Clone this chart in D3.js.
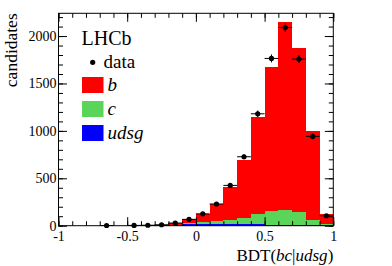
<!DOCTYPE html>
<html>
<head>
<meta charset="utf-8">
<script src="https://cdn.jsdelivr.net/npm/d3@7"></script>
<style>
  html, body { margin: 0; padding: 0; background: #fff; }
  svg { display: block; }
</style>
</head>
<body>
<svg id="chart" width="392" height="266"></svg>
<script>
// ---- data (bins of width 0.1 from -1 to 1) ----
const binLow = [-1.0,-0.9,-0.8,-0.7,-0.6,-0.5,-0.4,-0.3,-0.2,-0.1,0.0,0.1,0.2,0.3,0.4,0.5,0.6,0.7,0.8,0.9];
const bValues    = [0,0,0,0,1,1,1,4,16,44,94,186,342,611,1022,1523,1981,1732,938,105];
const cValues    = [0,0,0,0,0,0,1,2,4,8,14,24,42,63,104,140,155,136,55,14];
const udsgValues = [0.5,0.5,1,1,1,2,3,4,8,16,20,22,21,18,16,12,10,8,5,4];
const dataValues = [null,null,null,2,null,3,5,10,28,67,125,229,425,727,1180,1764,2090,1757,942,105];
const xMajorTicks = [-1,-0.5,0,0.5,1];
const xTickLabels = ["-1","-0.5","0","0.5","1"];
const yMajorTicks = [0,500,1000,1500,2000];
const yTickLabels = ["0","500","1000","1500","2000"];
const seriesKeys = ["udsg","c","b"];
const seriesColors = {b:"#ff0000", c:"#5ad55a", udsg:"#0000ff"};
const legendEntries = [{key:"b",label:"b"},{key:"c",label:"c"},{key:"udsg",label:"udsg"}];

const FONT = "'Liberation Serif', 'Times New Roman', Times, serif";
const binWidth = 0.1;
const svg = d3.select("#chart").attr("font-family", FONT);
const L = 58.5, R = 333.3, T = 13.3, B = 225.7;
const x = d3.scaleLinear().domain([-1,1]).range([L,R]);
const y = d3.scaleLinear().domain([0,2240]).range([B,T]);

// ---- stacked histogram ----
const rows = binLow.map((lo,i)=>({lo, b:bValues[i], c:cValues[i], udsg:udsgValues[i]}));
const stack = d3.stack().keys(seriesKeys)(rows);
stack.forEach(layer=>{
  svg.append("g").selectAll("rect").data(layer).join("rect")
    .attr("x", d=>x(d.data.lo))
    .attr("width", d=>x(d.data.lo+binWidth)-x(d.data.lo))
    .attr("y", d=>y(d[1]))
    .attr("height", d=>Math.max(0,y(d[0])-y(d[1])))
    .attr("fill", seriesColors[layer.key])
    .attr("shape-rendering","crispEdges");
});

// ---- axes (ticks inward on all sides) ----
const xMinor = d3.range(-10,11).map(v=>v/10);
const yMinor = d3.range(0,2300,100);
function styleAxis(g){
  g.attr("font-family", FONT).attr("font-size", null);
  g.select(".domain").remove();
  g.selectAll("line").attr("stroke","#000").attr("stroke-width",1);
  g.selectAll("text").attr("font-family", FONT).style("font-size","14px").attr("fill","#000");
}

const fmtX = d=>xTickLabels[xMajorTicks.indexOf(d)];
const fmtY = d=>yTickLabels[yMajorTicks.indexOf(d)];

svg.append("g").attr("transform",`translate(0,${B})`)
  .call(d3.axisBottom(x).tickValues(xMinor).tickSize(-4.5).tickFormat(""))
  .call(styleAxis);
svg.append("g").attr("transform",`translate(0,${B})`)
  .call(d3.axisBottom(x).tickValues(xMajorTicks).tickSize(-8.5).tickPadding(5.5).tickFormat(fmtX))
  .call(styleAxis);
svg.append("g").attr("transform",`translate(0,${T})`)
  .call(d3.axisTop(x).tickValues(xMinor).tickSize(-4.5).tickFormat(""))
  .call(styleAxis);
svg.append("g").attr("transform",`translate(0,${T})`)
  .call(d3.axisTop(x).tickValues(xMajorTicks).tickSize(-8.5).tickFormat(""))
  .call(styleAxis);

svg.append("g").attr("transform",`translate(${L},0)`)
  .call(d3.axisLeft(y).tickValues(yMinor).tickSize(-4.5).tickFormat(""))
  .call(styleAxis);
svg.append("g").attr("transform",`translate(${L},0)`)
  .call(d3.axisLeft(y).tickValues(yMajorTicks).tickSize(-8.5).tickPadding(2).tickFormat(fmtY))
  .call(styleAxis);
svg.append("g").attr("transform",`translate(${R},0)`)
  .call(d3.axisRight(y).tickValues(yMinor).tickSize(-4.5).tickFormat(""))
  .call(styleAxis);
svg.append("g").attr("transform",`translate(${R},0)`)
  .call(d3.axisRight(y).tickValues(yMajorTicks).tickSize(-8.5).tickFormat(""))
  .call(styleAxis);

// frame
svg.append("rect").attr("x",L).attr("y",T).attr("width",R-L).attr("height",B-T)
  .attr("fill","none").attr("stroke","#000").attr("stroke-width",1);

// ---- data points with error bars ----
const pts = binLow.map((lo,i)=>({xc:lo+binWidth/2, lo, v:dataValues[i]})).filter(d=>d.v!==null);
const gp = svg.append("g");
gp.selectAll("line.h").data(pts).join("line")
  .attr("x1",d=>x(d.lo)).attr("x2",d=>x(d.lo+binWidth))
  .attr("y1",d=>y(d.v)).attr("y2",d=>y(d.v))
  .attr("stroke","#000").attr("stroke-width",1);
gp.selectAll("line.v").data(pts).join("line")
  .attr("x1",d=>x(d.xc)).attr("x2",d=>x(d.xc))
  .attr("y1",d=>y(Math.max(0,d.v-Math.sqrt(d.v)))).attr("y2",d=>y(d.v+Math.sqrt(d.v)))
  .attr("stroke","#000").attr("stroke-width",1);
gp.selectAll("circle").data(pts).join("circle")
  .attr("cx",d=>x(d.xc)).attr("cy",d=>y(d.v)).attr("r",2.6).attr("fill","#000");

// ---- axis titles ----
const xt = svg.append("text").attr("x",R).attr("y",261).attr("text-anchor","end")
  .attr("font-family",FONT).style("font-size","17px");
xt.append("tspan").text("BDT(");
xt.append("tspan").attr("font-style","italic").text("bc");
xt.append("tspan").text("|");
xt.append("tspan").attr("font-style","italic").text("udsg");
xt.append("tspan").text(")");

svg.append("text").attr("transform",`translate(16.5,${T}) rotate(-90)`)
  .attr("font-family",FONT).attr("text-anchor","end").style("font-size","17.5px").text("candidates");

// ---- legend ----
svg.append("text").attr("x",81.5).attr("y",44.5).attr("font-family",FONT).style("font-size","20px").text("LHCb");
svg.append("circle").attr("cx",92.7).attr("cy",62.3).attr("r",2.6).attr("fill","#000");
svg.append("text").attr("x",103.5).attr("y",67.7).attr("font-family",FONT).style("font-size","19px").text("data");
legendEntries.forEach((e,i)=>{
  const cy = 85 + i*24;
  svg.append("rect").attr("x",82).attr("y",cy-8).attr("width",21.5).attr("height",16)
    .attr("fill",seriesColors[e.key]);
  svg.append("text").attr("x",107.5).attr("y",cy+6).attr("font-family",FONT).style("font-size","19px")
    .attr("font-style","italic").text(e.label);
});
</script>
</body>
</html>
